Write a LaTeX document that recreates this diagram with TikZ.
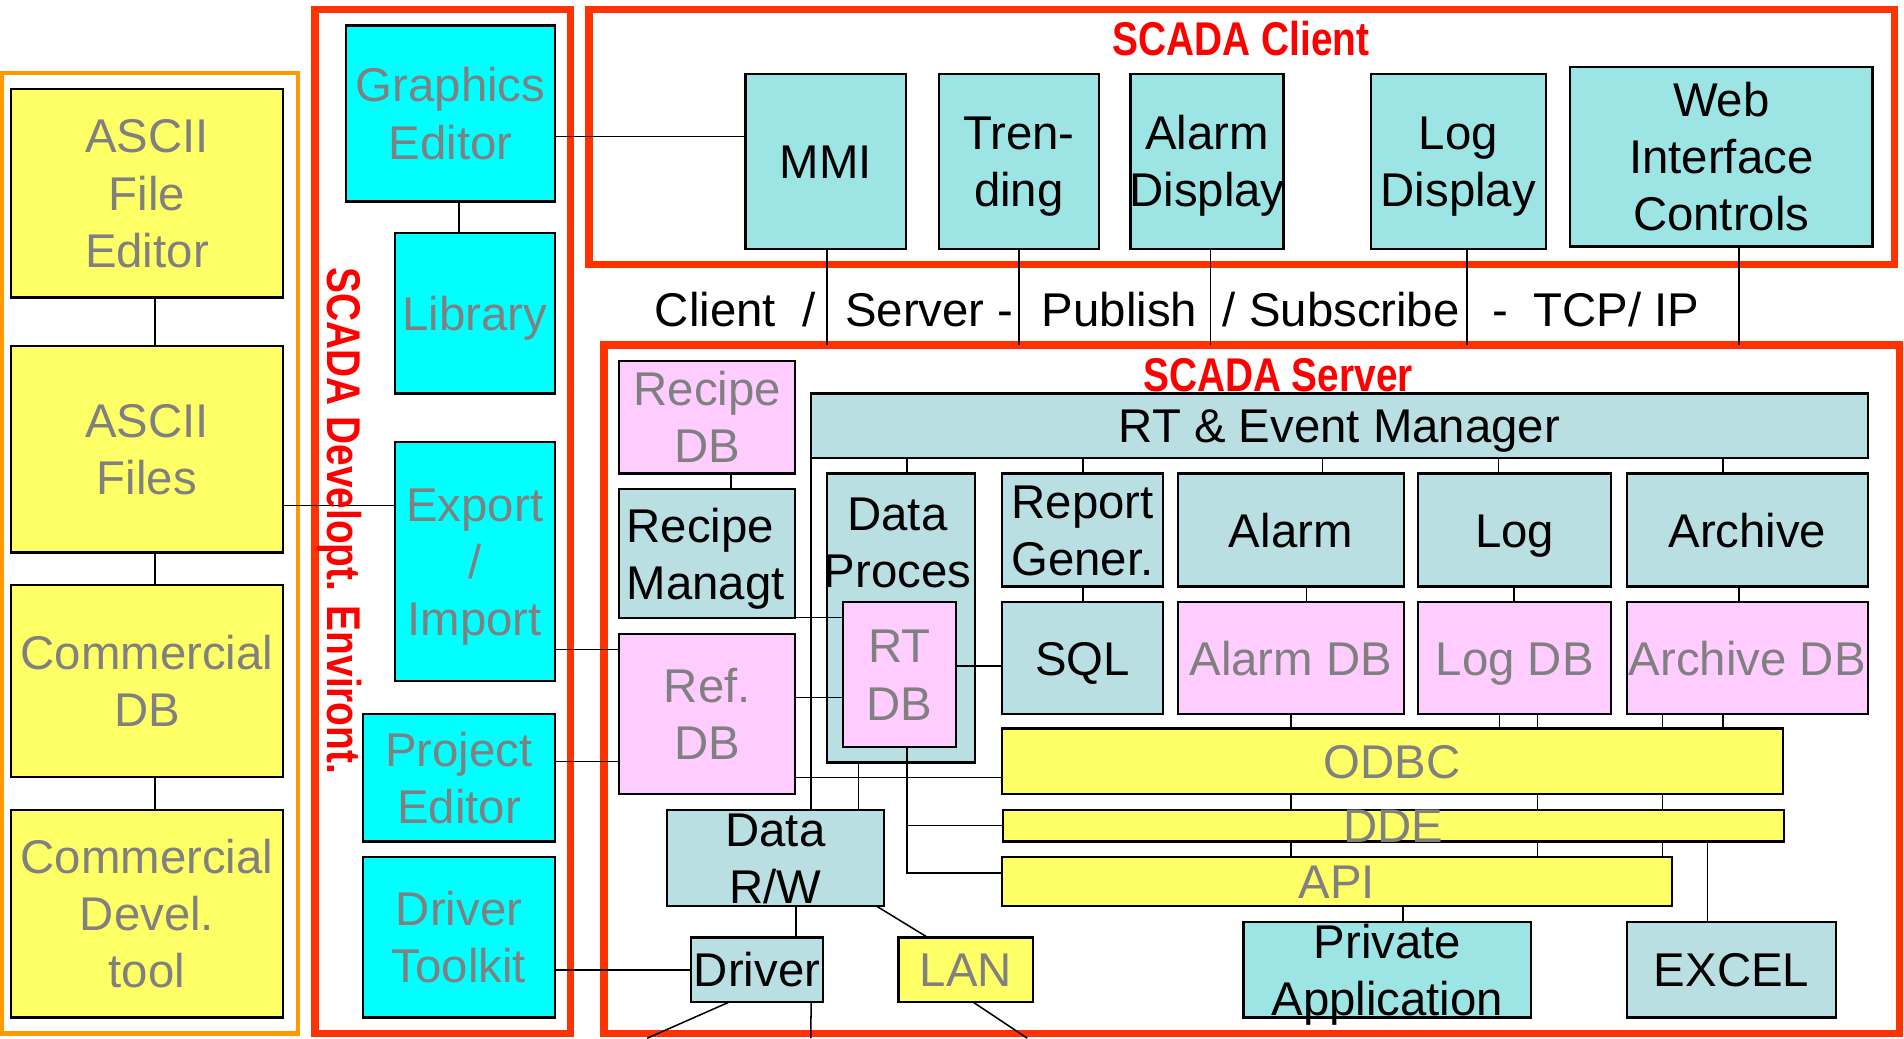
\documentclass[tikz,border=0pt]{standalone}
\usepackage{fontspec}
\setmainfont{Liberation Sans}
\newfontfamily\titlefont{Liberation Sans}[FakeStretch=0.82]
\definecolor{yelC}{HTML}{FFFF66}
\definecolor{cyaC}{HTML}{00FFFF}
\definecolor{cliC}{HTML}{9DE5E5}
\definecolor{srvC}{HTML}{BADFE3}
\definecolor{pnkC}{HTML}{FFCCFF}
\definecolor{grayT}{HTML}{808080}
\definecolor{frameRed}{HTML}{FF3300}
\definecolor{frameOr}{HTML}{FF9900}
\definecolor{titleRed}{HTML}{FF0000}
\newcommand\Lx[1]{\raisebox{0pt}[0.716em][0pt]{\makebox[0pt]{#1}}}
\newcommand\Ll[1]{\raisebox{0pt}[0.716em][0pt]{\makebox[0pt][l]{#1}}}
\newcommand\bx[8]{%
  \node[#2, minimum width={#6-#4}, minimum height={#7-#5}] (#1) at ({(#4+#6)/2},{(#5+#7)/2}) {};
  \node[#3] at (#1.center) {#8};}
\newcommand\fr[6]{%
  \node[#2, minimum width={#5-#3}, minimum height={#6-#4}] (#1) at ({(#3+#5)/2},{(#4+#6)/2}) {};}
\tikzset{
  bxs/.style={draw=black, line width=1.8pt, inner sep=0pt, outer sep=0pt, rectangle},
  yel/.style={bxs, fill=yelC},
  cya/.style={bxs, fill=cyaC},
  cli/.style={bxs, fill=cliC},
  srv/.style={bxs, fill=srvC},
  pnk/.style={bxs, fill=pnkC},
  tg/.style={inner sep=0pt, outer sep=0pt, align=center, text=grayT, font=\fontsize{39}{47}\selectfont},
  tk/.style={tg, text=black},
  pt/.style={inner sep=0pt, outer sep=0pt, anchor=base west, text=black, font=\fontsize{39}{47}\selectfont},
  con/.style={draw=black, line width=1.25pt},
  frm/.style={draw=frameRed, line width=6pt, inner sep=0pt, outer sep=0pt, rectangle},
  frmo/.style={draw=frameOr, line width=3.5pt, inner sep=0pt, outer sep=0pt, rectangle},
  ttl/.style={inner sep=0pt, outer sep=0pt, text=titleRed, font=\titlefont\bfseries\fontsize{39}{47}\selectfont},
}
\begin{document}
\begin{tikzpicture}[x=1pt,y=-1pt]
\useasboundingbox (0,0) rectangle (1568,855);
\fill[white] (0,0) rectangle (1568,855);
% frames
\fr{orF}{frmo}{1.5}{60.3}{245.7}{851}
\fr{devF}{frm}{259.5}{8}{470}{851}
\fr{cliF}{frm}{485}{8}{1560}{218}
\fr{srvF}{frm}{497.5}{284}{1564}{851}
% coordinates for connectors (x positions and y positions)
\coordinate (xL) at (127.5,0);
\coordinate (xGL) at (378,0);
\foreach \v in {681,839,997,1208,1432,602,747,892,1089,1234,1419,1076,1247,1063,1235,1266,1369,1406,668,707,764,601,801}
  {\coordinate (x\v) at (\v,0);}
\coordinate (xPA) at (1155.5,0);
\coordinate (xDV) at (655.6,0);
\coordinate (xLN) at (721.5,0);
\coordinate (yAF) at (0,416.4);
\coordinate (yGE) at (0,112.6);
\coordinate (yEI) at (0,534.7);
\coordinate (yPE) at (0,627);
\coordinate (yDT) at (0,799);
\coordinate (yRM) at (0,508.7);
\coordinate (yRF) at (0,574.5);
\coordinate (ySQ) at (0,548.5);
\coordinate (yOD) at (0,640.4);
\coordinate (yDD) at (0,680);
\coordinate (yAP) at (0,719);
\coordinate (e1) at (533,855);
\coordinate (e2) at (667.7,855);
\coordinate (e3) at (846,855);
% boxes
\bx{afe}{yel}{tg}{9}{73}{233}{245}{\Lx{ASCII}\\\Lx{File}\\\Lx{Editor}}
\bx{af}{yel}{tg}{9}{285}{233}{455}{\Lx{ASCII}\\\Lx{Files}}
\bx{cdb}{yel}{tg}{9}{482}{233}{640}{\Lx{Commercial}\\\Lx{DB}}
\bx{cdt}{yel}{tg}{9}{667}{233}{838}{\Lx{Commercial}\\\Lx{Devel.}\\\Lx{tool}}
\bx{ge}{cya}{tg}{285}{21}{457}{166}{\Lx{Graphics}\\\Lx{Editor}}
\bx{lib}{cya}{tg}{325}{192}{457}{324}{\Lx{Library}}
\bx{ei}{cya}{tg}{325}{364}{457}{561}{\Lx{Export}\\\Lx{/}\\\Lx{Import}}
\bx{pe}{cya}{tg}{299}{588}{457}{693}{\Lx{Project}\\\Lx{Editor}}
\bx{dt}{cya}{tg}{299}{706}{457}{838}{\Lx{Driver}\\\Lx{Toolkit}}
\bx{mmi}{cli}{tk}{614}{61}{746}{205}{\Lx{MMI}}
\bx{trd}{cli}{tk}{773}{61}{905}{205}{\Lx{Tren-}\\\Lx{ding}}
\bx{ad}{cli}{tk}{931}{61}{1057}{205}{\Lx{Alarm}\\\Lx{Display}}
\bx{ld}{cli}{tk}{1129}{61}{1273}{205}{\Lx{Log}\\\Lx{Display}}
\bx{web}{cli}{tk}{1293}{55}{1542}{203}{\Lx{Web}\\\Lx{Interface}\\\Lx{Controls}}
\bx{rdb}{pnk}{tg}{510}{297}{655}{390}{\Lx{Recipe}\\\Lx{DB}}
\bx{rm}{srv}{tk}{510}{403}{655}{509}{}
\node[tk] (rmt) at (516,456.5) {\Ll{Recipe}\\\Ll{Managt}};
\bx{rtem}{srv}{tk}{668}{324}{1538}{377}{\Lx{RT \& Event Manager}}
\bx{dp}{srv}{tk}{681}{390}{803}{628}{}
\node[tk] (dpt) at (739,446.5) {\Lx{Data}\\\Lx{Proces}};
\bx{rtdb}{pnk}{tg}{694}{496}{787}{615}{\Lx{RT}\\\Lx{DB}}
\bx{rg}{srv}{tk}{825}{390}{958}{483}{\Lx{Report}\\\Lx{Gener.}}
\bx{sql}{srv}{tk}{825}{496}{958}{588}{\Lx{SQL}}
\bx{al}{srv}{tk}{970}{390}{1156}{483}{\Lx{Alarm}}
\bx{lg}{srv}{tk}{1168}{390}{1327}{483}{\Lx{Log}}
\bx{ar}{srv}{tk}{1340}{390}{1538}{483}{\Lx{Archive}}
\bx{aldb}{pnk}{tg}{970}{496}{1156}{588}{\Lx{Alarm DB}}
\bx{lgdb}{pnk}{tg}{1168}{496}{1327}{588}{\Lx{Log DB}}
\bx{ardb}{pnk}{tg}{1340}{496}{1538}{588}{\Lx{Archive DB}}
\bx{ref}{pnk}{tg}{510}{522}{655}{654}{\Lx{Ref.}\\\Lx{DB}}
\bx{odbc}{yel}{tg}{825}{600}{1468}{654}{\Lx{ODBC}}
\bx{dde}{yel}{tg}{826}{667}{1469}{693}{\Lx{DDE}}
\bx{api}{yel}{tg}{825}{706}{1377}{746}{\Lx{API}}
\bx{drw}{srv}{tk}{549}{667}{728}{746}{\Lx{Data}\\\Lx{R/W}}
\bx{drv}{srv}{tk}{569}{772}{678}{825}{\Lx{Driver}}
\bx{lan}{yel}{tg}{740}{772}{851}{825}{\Lx{LAN}}
\bx{pa}{cli}{tk}{1024}{759}{1261}{838}{\Lx{Private}\\\Lx{Application}}
\bx{xl}{srv}{tk}{1340}{759}{1512}{838}{\Lx{EXCEL}}
% connectors
\draw[con] (afe.south -| xL) -- (af.north -| xL);
\draw[con] (af.south -| xL) -- (cdb.north -| xL);
\draw[con] (cdb.south -| xL) -- (cdt.north -| xL);
\draw[con] (af.east |- yAF) -- (ei.west |- yAF);
\draw[con] (ge.south -| xGL) -- (lib.north -| xGL);
\draw[con] (ge.east |- yGE) -- (mmi.west |- yGE);
\draw[con] (ei.east |- yEI) -- (ref.west |- yEI);
\draw[con] (pe.east |- yPE) -- (ref.west |- yPE);
\draw[con] (dt.east |- yDT) -- (drv.west |- yDT);
\draw[con] (mmi.south -| x681) -- (srvF.north -| x681);
\draw[con] (trd.south -| x839) -- (srvF.north -| x839);
\draw[con] (ad.south -| x997) -- (srvF.north -| x997);
\draw[con] (ld.south -| x1208) -- (srvF.north -| x1208);
\draw[con] (web.south -| x1432) -- (srvF.north -| x1432);
\draw[con] (rdb.south -| x602) -- (rm.north -| x602);
\draw[con] (rtem.south -| x747) -- (dp.north -| x747);
\draw[con] (rtem.south -| x892) -- (rg.north -| x892);
\draw[con] (rtem.south -| x1089) -- (al.north -| x1089);
\draw[con] (rtem.south -| x1234) -- (lg.north -| x1234);
\draw[con] (rtem.south -| x1419) -- (ar.north -| x1419);
\draw[con] (rg.south -| x892) -- (sql.north -| x892);
\draw[con] (al.south -| x1076) -- (aldb.north -| x1076);
\draw[con] (lg.south -| x1247) -- (lgdb.north -| x1247);
\draw[con] (ar.south -| x1432) -- (ardb.north -| x1432);
\draw[con] (aldb.south -| x1063) -- (odbc.north -| x1063);
\draw[con] (odbc.south -| x1063) -- (dde.north -| x1063);
\draw[con] (dde.south -| x1063) -- (api.north -| x1063);
\draw[con] (lgdb.south -| x1235) -- (odbc.north -| x1235);
\draw[con] (lgdb.south -| x1266) -- (odbc.north -| x1266);
\draw[con] (odbc.south -| x1266) -- (dde.north -| x1266);
\draw[con] (dde.south -| x1266) -- (api.north -| x1266);
\draw[con] (ardb.south -| x1369) -- (odbc.north -| x1369);
\draw[con] (ardb.south -| x1419) -- (odbc.north -| x1419);
\draw[con] (odbc.south -| x1369) -- (dde.north -| x1369);
\draw[con] (dde.south -| x1369) -- (api.north -| x1369);
\draw[con] (api.south -| xPA) -- (pa.north -| xPA);
\draw[con] (dde.south -| x1406) -- (xl.north -| x1406);
\draw[con] (rtem.south -| x668) -- (drw.north -| x668);
\draw[con] (rm.east |- yRM) -- (rtdb.west |- yRM);
\draw[con] (ref.east |- yRF) -- (rtdb.west |- yRF);
\draw[con] (rtdb.east |- ySQ) -- (sql.west |- ySQ);
\draw[con] (ref.east |- yOD) -- (odbc.west |- yOD);
\draw[con] (dp.south -| x707) -- (drw.north -| x707);
\draw[con] (rtdb.south -| x747) |- (dde.west |- yDD);
\draw[con] (rtdb.south -| x747) |- (api.west |- yAP);
\draw[con] (drw.south -| xDV) -- (drv.north -| xDV);
\draw[con] (drw.south -| xLN) -- (lan.north -| x764);
\draw[con] (drv.south -| x601) -- (e1);
\draw[con] (drv.south -| x668) -- (e2);
\draw[con] (lan.south -| x801) -- (e3);
% protocol label
\node[pt] (p1) at (539.4,269) {Client};
\node[pt] (p2) at (661,269) {/};
\node[pt] (p3) at (696,269) {Server -};
\node[pt] (p4) at (858,269) {Publish};
\node[pt] (p5) at (1007,269) {/ Subscribe};
\node[pt] (p6) at (1229,269) {-};
\node[pt] (p7) at (1263,269) {TCP/ IP};
% titles
\node[ttl] (tcli) at (1022,31.5) {\Lx{SCADA Client}};
\node[ttl] (tsrv) at (1052.5,308.5) {\Lx{SCADA Server}};
\node[ttl, rotate=-90] (tdev) at (283.5,429) {\Lx{SCADA Developt. Environt.}};
\end{tikzpicture}
\end{document}
